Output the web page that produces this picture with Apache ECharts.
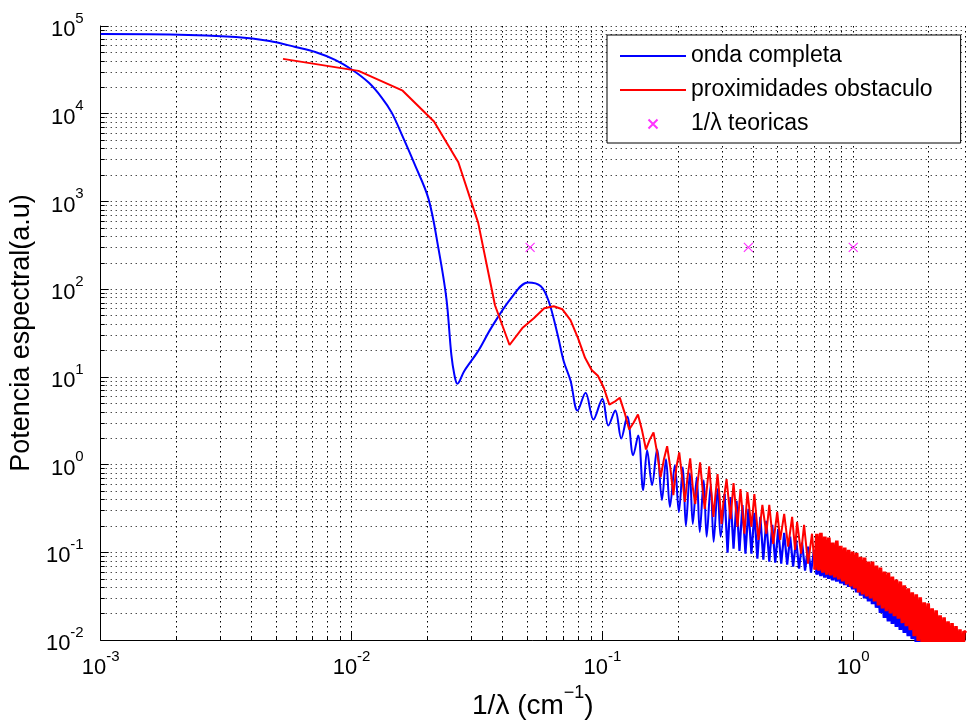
<!DOCTYPE html>
<html><head><meta charset="utf-8">
<script src="https://cdn.jsdelivr.net/npm/echarts@6/dist/echarts.min.js"></script>
<style>html,body{margin:0;padding:0;background:#fff}#c{width:968px;height:725px}</style>
</head><body><div id="c"></div>
<script>
// ---- data ----
const seriesNames = ['onda completa', 'proximidades obstaculo', '1/\u03bb teoricas'];

const ondaCompleta = [
[0.001,81000],[0.00189,80000],[0.00346,74800],[0.00471,67400],[0.00597,57700],[0.00717,50600],
[0.0086,41100],[0.01005,31700],[0.01173,22500],[0.01321,15200],[0.01446,10300],[0.01585,5810],
[0.01784,2660],[0.02027,1070],[0.02221,290],[0.02388,78.7],[0.0250,17.8],[0.0257,10.6],
[0.02641,8.35],[0.02815,11.7],[0.03199,19.8],[0.036,36.0],[0.04321,78.7],[0.05047,119],
[0.05682,108],[0.0611,72.8],[0.06635,30.0],[0.07007,15.2],[0.07468,9.03],[0.0796,4.13],
[0.0857,6.61],[0.0921,3.27],[0.1,5.65],[0.1056,2.79],[0.1126,4.13],[0.1189,1.99],
[0.1256,3.53],[0.1327,1.28],[0.1389,2.15],[0.1454,0.513],[0.1508,1.46],[0.1578,0.585],
[0.1651,1.49],[0.1728,0.395],[0.1793,1.15],[0.1859,0.330],[0.1945,0.984],[0.2018,0.289],
[0.2093,0.933],[0.2152,0.200],[0.2232,0.800],[0.2293,0.211],[0.2378,0.719],[0.2444,0.171],
[0.2535,0.665],[0.2604,0.151],[0.2702,0.585],[0.2777,0.132],[0.288,0.526],[0.296,0.151],
[0.307,0.462]
];
const ondaCompletaMid = [
[0.307,0.462],[0.3155,0.0993],[0.3243,0.428],[0.3333,0.110],[0.3426,0.386],[0.352,0.104],
[0.3618,0.347],[0.3718,0.0966],[0.3822,0.313],[0.3928,0.0966],[0.4036,0.282],[0.4148,0.0849],
[0.4263,0.254],[0.4381,0.0826],[0.4503,0.229],[0.4627,0.0785],[0.4756,0.206],[0.4888,0.0764],
[0.5023,0.185],[0.5163,0.0745],[0.5306,0.167],[0.5453,0.0726],[0.5605,0.151],[0.576,0.0689],
[0.592,0.139],[0.6084,0.0653],[0.6252,0.129],[0.6426,0.0621],[0.6604,0.116],[0.6787,0.0589],
[0.6975,0.107],[0.7167,0.0559]
];
const ondaCompletaDense = [
[0.7167,0.0559],[0.7299,0.1018],[0.7433,0.0537],[0.7570,0.0985],[0.7709,0.0517],[0.7851,0.0953],
[0.7995,0.0499],[0.8142,0.0918],[0.8292,0.0481],[0.8445,0.0880],[0.8600,0.0463],[0.8758,0.0849],
[0.8920,0.0442],[0.9084,0.0805],[0.9251,0.0423],[0.9421,0.0772],[0.9594,0.0404],[0.9771,0.0737],
[0.9951,0.0380],[1.0134,0.0689],[1.0320,0.0350],[1.0510,0.0630],[1.0704,0.0321],[1.0901,0.0575],
[1.1101,0.0299],[1.1305,0.0537],[1.1513,0.0276],[1.1725,0.0499],[1.1941,0.0257],[1.2161,0.0463],
[1.2385,0.0234],[1.2613,0.0410],[1.2845,0.0205],[1.3081,0.0359],[1.3322,0.0179],[1.3567,0.0317],
[1.3817,0.0164],[1.4071,0.0296],[1.4330,0.0153],[1.4594,0.0275],[1.4862,0.0142],[1.5136,0.0256],
[1.5414,0.0131],[1.5698,0.0235],[1.5987,0.0121],[1.6281,0.0216],[1.6581,0.0111],[1.6886,0.0200],
[1.7197,0.0103],[1.7513,0.0185],[1.7836,0.0095],[1.8164,0.0172],[1.8498,0.0088],[1.8839,0.0158],
[1.9185,0.0081],[1.9538,0.0146],[1.9898,0.0075],[2.0264,0.0135],[2.0637,0.0069],[2.1017,0.0124],
[2.1404,0.0064],[2.1798,0.0115],[2.2199,0.0058],[2.2607,0.0105],[2.3023,0.0054],[2.3447,0.0098],
[2.3879,0.0050],[2.4318,0.0090],[2.4766,0.0046],[2.5222,0.0083],[2.5686,0.0042],[2.6159,0.0077],
[2.6640,0.0039],[2.7130,0.0071],[2.7630,0.0036],[2.8138,0.0066]
];

const proximidades = [
[0.00533,42200],[0.01066,30800],[0.01599,18300],[0.02132,8160],[0.02665,2800],[0.03198,570],
[0.03731,65.6],[0.04264,23.1],[0.04797,36.0],[0.0533,46.7],[0.05863,60.6],[0.06396,63.9],
[0.06929,59.0],[0.07462,44.3],[0.07995,27.7],[0.08528,16.5],[0.09061,12.0],[0.09594,10.3],
[0.1013,7.53],[0.1066,4.83],[0.1119,5.22],[0.1173,5.80],[0.1226,3.92],[0.1279,2.52],
[0.1333,3.02],[0.1386,3.72],[0.1439,2.46],[0.1492,1.49],[0.1546,1.94],[0.1599,2.33],
[0.1652,1.38],[0.1706,0.719],[0.1759,1.15],[0.1812,1.62],[0.1865,0.933],[0.1919,0.450],
[0.1972,0.933],[0.2025,1.38],[0.2079,0.719],[0.2132,0.375],[0.2185,0.719],[0.2239,1.18],
[0.2292,0.555],[0.2345,0.356],[0.2398,0.632],[0.2452,1.06],[0.2505,0.555],[0.2558,0.313],
[0.2612,0.555],[0.2665,0.959],[0.2718,0.486],[0.2772,0.254],[0.2825,0.462],[0.2878,0.778],
[0.2932,0.428],[0.2985,0.211],[0.3038,0.375],
[0.3126,0.683],[0.3243,0.241],[0.3333,0.616],[0.3456,0.196],[0.3552,0.527],[0.3684,0.163],
[0.3786,0.487],[0.3927,0.196],[0.4036,0.462],[0.4187,0.139],[0.4343,0.347],[0.4503,0.163],
[0.4627,0.347],[0.4799,0.125],[0.4977,0.289],[0.5116,0.139],[0.5306,0.274],[0.5503,0.116],
[0.5707,0.254],[0.5866,0.107],[0.5973,0.223],[0.6196,0.0967],[0.6368,0.206],[0.6604,0.0745],
[0.6849,0.163],[0.7037,0.0637]
];
const proximidadesDense = [
[0.7037,0.0637],
[0.7167,0.163],[0.7299,0.0620],[0.7433,0.167],[0.7570,0.0589],[0.7709,0.151],[0.7851,0.0559],
[0.7995,0.147],[0.8142,0.0545],[0.8292,0.129],[0.8445,0.0517],[0.8600,0.136],[0.8758,0.0491],
[0.8920,0.119],[0.9084,0.0466],[0.9251,0.113],[0.9421,0.0431],[0.9594,0.107],[0.9771,0.0409],
[0.9951,0.102],[1.0134,0.0388],[1.0320,0.099],[1.0510,0.0350],[1.0704,0.089],[1.0901,0.0332],
[1.1101,0.087],[1.1305,0.0315],[1.1513,0.0785],[1.1725,0.0299],[1.1941,0.0785],[1.2161,0.0276],
[1.2385,0.0707],[1.2613,0.0249],[1.2845,0.0671],[1.3081,0.0230],[1.3322,0.0605],[1.3567,0.0214],
[1.3817,0.0589],[1.4071,0.0202],[1.4330,0.0530],[1.4594,0.0187],[1.4862,0.0491],[1.5136,0.0175],
[1.5414,0.0466],[1.5698,0.0156],[1.5987,0.0420],[1.6281,0.0144],[1.6581,0.0388],[1.6886,0.0130],
[1.7197,0.0350],[1.7513,0.0111],[1.7836,0.0332],[1.8164,0.0098],[1.8498,0.0307],[1.8839,0.0090],
[1.9185,0.0269],[1.9538,0.0084],[1.9898,0.0262],[2.0264,0.0079],[2.0637,0.0230],[2.1017,0.0074],
[2.1404,0.0219],[2.1798,0.0069],[2.2199,0.0192],[2.2607,0.0064],[2.3023,0.0182],[2.3447,0.0058],
[2.3879,0.0164],[2.4318,0.0055],[2.4766,0.0156],[2.5222,0.0051],[2.5686,0.0144],[2.6159,0.0047],
[2.6640,0.0133],[2.7130,0.0044],[2.7630,0.0126],[2.8138,0.0120]
];

const teoricas = [[0.0515,300],[0.382,300],[1.0,300]];

const xTicks = [0.001, 0.01, 0.1, 1];
const yTicks = [0.01, 0.1, 1, 10, 100, 1000, 10000, 100000];
const xMinor = [0.002,0.003,0.004,0.005,0.006,0.007,0.008,0.009,
                0.02,0.03,0.04,0.05,0.06,0.07,0.08,0.09,
                0.2,0.3,0.4,0.5,0.6,0.7,0.8,0.9, 2];
const yMinor = [];
[0.01,0.1,1,10,100,1000,10000].forEach(d => { for (let m = 2; m <= 9; m++) yMinor.push(+(d*m).toPrecision(3)); });

// ---- chart ----
const FF = "'Liberation Sans', Arial, Helvetica, sans-serif";
const dottedH = {color: '#000', width: 1, type: [1, 4]};
const dottedV = {color: '#000', width: 1, type: [1.5, 3.5]};

function decadeLabel(ticks) {
  return function (v) {
    for (const t of ticks) {
      if (Math.abs(v - t) <= 1e-6 * t) {
        const e = Math.round(Math.log10(t));
        return '{b|10}{s|' + e + '}';
      }
    }
    return '';
  };
}
const richTick = {
  b: {fontSize: 22, lineHeight: 30, verticalAlign: 'bottom', fontFamily: FF, color: '#000'},
  s: {fontSize: 15, lineHeight: 15, verticalAlign: 'top', fontFamily: FF, color: '#000'}
};
const hiddenLegendSymbol = {opacity: 0};

const chart = echarts.init(document.getElementById('c'), null, {renderer: 'canvas'});
chart.setOption({
  animation: false,
  backgroundColor: '#fff',
  grid: {left: 97, right: 1, top: 26, bottom: 81, containLabel: false},
  legend: {
    data: [
      {name: seriesNames[0], itemStyle: hiddenLegendSymbol},
      {name: seriesNames[1], itemStyle: hiddenLegendSymbol},
      {name: seriesNames[2]}
    ],
    orient: 'vertical',
    left: 607, top: 35,
    padding: [8, 28, 6, 12],
    itemGap: 8,
    itemWidth: 66, itemHeight: 9,
    borderColor: '#000', borderWidth: 1, borderRadius: 0,
    backgroundColor: '#fff',
    textStyle: {fontFamily: FF, fontSize: 23, color: '#000', lineHeight: 26},
    selectedMode: false
  },
  xAxis: [{
    type: 'log', logBase: 10, min: 0.001, max: 2.79, interval: 1,
    name: '{n|1/\u03bb (cm}{s|\u22121}{n|)}',
    nameLocation: 'middle', nameGap: 28,
    nameTextStyle: {
      rich: {
        n: {fontSize: 28, lineHeight: 36, verticalAlign: 'bottom', fontFamily: FF, color: '#000'},
        s: {fontSize: 18, lineHeight: 18, verticalAlign: 'top', fontFamily: FF, color: '#000'}
      }
    },
    axisLine: {show: true, onZero: false, lineStyle: {color: '#000', width: 1}},
    axisTick: {show: true, inside: true, length: 8, lineStyle: {color: '#000'}},
    axisLabel: {margin: 9, formatter: decadeLabel(xTicks), rich: richTick},
    splitLine: {show: true, lineStyle: dottedV}
  }, {
    type: 'log', logBase: 10, min: 0.001, max: 2.79, position: 'bottom',
    axisLine: {show: false}, axisLabel: {show: false},
    splitLine: {show: true, lineStyle: dottedV},
    axisTick: {show: true, inside: true, length: 4, lineStyle: {color: '#000'}, customValues: xMinor}
  }],
  yAxis: [{
    type: 'log', logBase: 10, min: 0.01, max: 100000, interval: 1,
    name: 'Potencia espectral(a.u)',
    nameLocation: 'middle', nameGap: 60, nameRotate: 90,
    nameTextStyle: {fontFamily: FF, fontSize: 27, color: '#000'},
    axisLine: {show: true, onZero: false, lineStyle: {color: '#000', width: 1}},
    axisTick: {show: true, inside: true, length: 8, lineStyle: {color: '#000'}},
    axisLabel: {margin: 17, formatter: decadeLabel(yTicks), rich: richTick},
    splitLine: {show: true, lineStyle: dottedH}
  }, {
    type: 'log', logBase: 10, min: 0.01, max: 100000, position: 'left',
    axisLine: {show: false}, axisLabel: {show: false},
    splitLine: {show: true, lineStyle: dottedH},
    axisTick: {show: true, inside: true, length: 4, lineStyle: {color: '#000'}, customValues: yMinor}
  }],
  series: [
    {
      name: seriesNames[0], type: 'line', data: ondaCompleta,
      showSymbol: false, symbol: 'none', smooth: 0.35, clip: true, z: 3,
      lineStyle: {color: '#0000ff', width: 2}, itemStyle: {color: '#0000ff'}
    },
    {
      name: seriesNames[0], type: 'line', data: ondaCompletaMid,
      showSymbol: false, symbol: 'none', clip: true, z: 3,
      lineStyle: {color: '#0000ff', width: 2.2}, itemStyle: {color: '#0000ff'}
    },
    {
      name: seriesNames[0], type: 'line', data: ondaCompletaDense,
      showSymbol: false, symbol: 'none', clip: true, z: 3,
      lineStyle: {color: '#0000ff', width: 3.6}, itemStyle: {color: '#0000ff'}
    },
    {
      name: seriesNames[1], type: 'line', data: proximidades,
      showSymbol: false, symbol: 'none', clip: true, z: 4,
      lineStyle: {color: '#ff0000', width: 2}, itemStyle: {color: '#ff0000'}
    },
    {
      name: seriesNames[1], type: 'line', data: proximidadesDense,
      showSymbol: false, symbol: 'none', clip: true, z: 4,
      lineStyle: {color: '#ff0000', width: 3.6}, itemStyle: {color: '#ff0000'}
    },
    {
      name: seriesNames[2], type: 'scatter', data: teoricas, z: 5,
      symbol: 'path://M0,0L10,10M10,0L0,10', symbolSize: 9,
      itemStyle: {color: 'none', borderColor: '#ff00ff', borderWidth: 1.2}
    }
  ]
});
</script>
</body></html>
